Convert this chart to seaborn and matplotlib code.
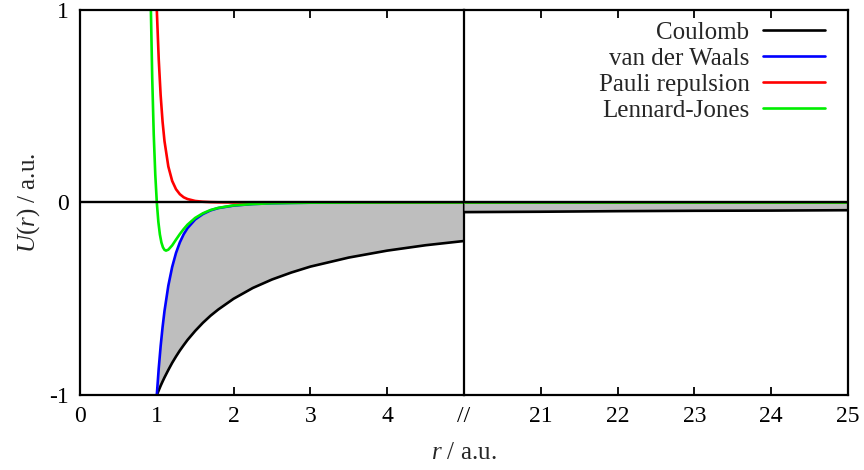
import matplotlib.pyplot as plt
import seaborn as sns

# r grid (a.u.) shared by Coulomb, van der Waals and Pauli on the near side
r_near = [1.0, 1.025, 1.05, 1.075, 1.1, 1.15, 1.2, 1.25, 1.3, 1.35, 1.4, 1.5,
          1.6, 1.7, 1.8, 2.0, 2.25, 2.5, 2.75, 3.0, 3.5, 4.0, 4.5, 5.0]
coulomb_near = [-1.0, -0.976, -0.952, -0.930, -0.909, -0.870, -0.833, -0.800,
                -0.769, -0.741, -0.714, -0.667, -0.625, -0.588, -0.556, -0.500,
                -0.444, -0.400, -0.364, -0.333, -0.286, -0.250, -0.222, -0.200]
vdw_near = [-1.0, -0.862, -0.746, -0.648, -0.564, -0.432, -0.335, -0.262,
            -0.207, -0.165, -0.133, -0.088, -0.060, -0.041, -0.029, -0.016,
            -0.008, -0.004, -0.002, -0.001, -0.001, 0.0, 0.0, 0.0]
pauli_near = [1.0, 0.744, 0.557, 0.420, 0.319, 0.187, 0.112, 0.069, 0.043,
              0.027, 0.018, 0.008, 0.004, 0.002, 0.001, 0.0, 0.0, 0.0, 0.0,
              0.0, 0.0, 0.0, 0.0, 0.0]

# Lennard-Jones starts a bit before r = 1
r_lj = [0.923, 0.94, 0.96, 0.98, 1.0, 1.02, 1.04, 1.06, 1.08, 1.1, 1.12, 1.15,
        1.2, 1.25, 1.3, 1.35, 1.4, 1.5, 1.6, 1.7, 1.8, 2.0, 2.25, 2.5, 3.0,
        4.0, 5.0]
lj = [1.0, 0.652, 0.354, 0.146, 0.0, -0.100, -0.166, -0.208, -0.233, -0.246,
      -0.250, -0.245, -0.223, -0.193, -0.164, -0.138, -0.115, -0.080, -0.056,
      -0.039, -0.028, -0.015, -0.008, -0.004, -0.001, 0.0, 0.0]

# far side of the broken axis
r_far = [20, 21, 22, 23, 24, 25]
coulomb_far = [-0.050, -0.048, -0.045, -0.043, -0.042, -0.040]
vdw_far = [0.0, 0.0, 0.0, 0.0, 0.0, 0.0]

near_ticks = [0, 1, 2, 3, 4, 5]
near_labels = ["0", "1", "2", "3", "4", "//"]
far_ticks = [21, 22, 23, 24, 25]

sns.set_theme(style="white")
plt.rcParams["font.family"] = ["Liberation Serif", "DejaVu Serif"]
plt.rcParams["mathtext.fontset"] = "custom"
plt.rcParams["mathtext.rm"] = "Liberation Serif"
plt.rcParams["mathtext.it"] = "Liberation Serif:italic"

fig, (ax1, ax2) = plt.subplots(1, 2, figsize=(8.64, 4.70), dpi=100, sharey=True)
fig.subplots_adjust(left=0.0926, right=0.9815, top=0.9787, bottom=0.1596, wspace=0)

fill_col = "#bebebe"
lw = 1.9
fs_tick = 17
fs_lab = 18

# near panel
ax1.fill_between(r_near, coulomb_near, vdw_near, color=fill_col, lw=0, zorder=1)
sns.lineplot(x=r_near, y=coulomb_near, ax=ax1, color="black", lw=lw,
             sort=False, estimator=None, zorder=3)
sns.lineplot(x=r_near, y=vdw_near, ax=ax1, color="#0000ff", lw=lw,
             sort=False, estimator=None, zorder=3)
sns.lineplot(x=r_near, y=pauli_near, ax=ax1, color="#ff0000", lw=lw,
             sort=False, estimator=None, zorder=3)
sns.lineplot(x=r_lj, y=lj, ax=ax1, color="#00ee00", lw=lw,
             sort=False, estimator=None, zorder=4)

# far panel, lines carry the legend
ax2.fill_between(r_far, coulomb_far, vdw_far, color=fill_col, lw=0, zorder=1)
sns.lineplot(x=r_far, y=coulomb_far, ax=ax2, color="black", lw=lw,
             estimator=None, label="Coulomb", zorder=3)
sns.lineplot(x=r_far, y=vdw_far, ax=ax2, color="#0000ff", lw=lw,
             estimator=None, label="van der Waals", zorder=2)
sns.lineplot(x=r_far, y=vdw_far, ax=ax2, color="#ff0000", lw=lw,
             estimator=None, label="Pauli repulsion", zorder=2)
sns.lineplot(x=r_far, y=vdw_far, ax=ax2, color="#00ee00", lw=lw,
             estimator=None, label="Lennard-Jones", zorder=2)

for ax in (ax1, ax2):
    ax.axhline(0, color="black", lw=1.7, zorder=5)
    for s in ax.spines.values():
        s.set_color("black")
        s.set_linewidth(1.6)
        s.set_zorder(6)
    ax.tick_params(direction="in", length=6, width=1.3, colors="black",
                   labelsize=fs_tick, top=True, bottom=True, pad=8)
    ax.set_xlabel("")
    ax.set_ylabel("")

# keep the dividing spine of the left panel visible
ax2.patch.set_alpha(0)

ax1.set_xlim(0, 5)
ax1.set_xticks(near_ticks)
ax1.set_xticklabels(near_labels)
ax1.set_ylim(-1, 1)
ax1.set_yticks([-1, 0, 1])
ax1.set_yticklabels(["-1", "0", "1"])
ax1.tick_params(axis="y", left=True, right=False, pad=8)
ax1.set_ylabel("$U(r)$ / a.u.", fontsize=fs_lab, labelpad=5)

ax2.set_xlim(20, 25)
ax2.set_xticks(far_ticks)
ax2.tick_params(axis="y", left=False, right=True, labelleft=False)
ax2.spines["left"].set_visible(False)

leg = ax2.legend(loc="upper right", frameon=False, fontsize=fs_lab,
                 markerfirst=False, handlelength=2.45, handletextpad=0.55,
                 labelspacing=0.14, borderaxespad=0,
                 bbox_to_anchor=(0.965, 0.997))
for t in leg.get_texts():
    t.set_ha("right")

fig.text(0.5370, 0.012, "$r$ / a.u.", ha="center", va="bottom", fontsize=fs_lab)

fig.savefig("out.png", dpi=100)
